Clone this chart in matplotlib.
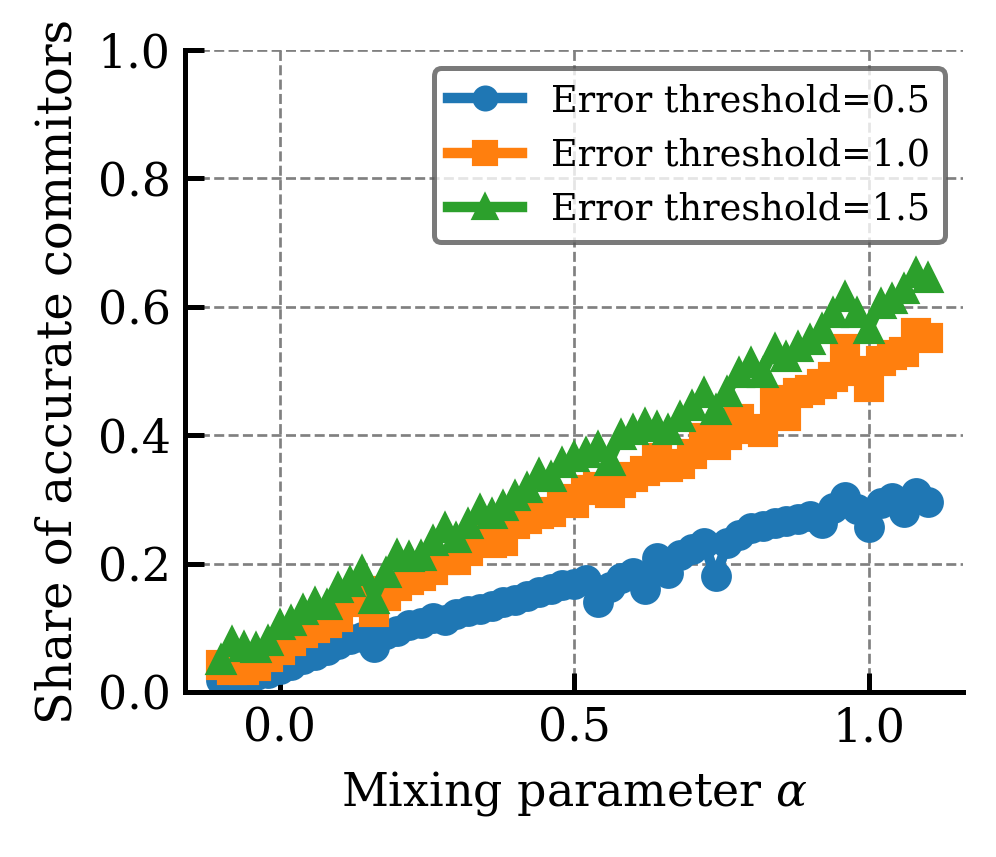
import numpy as np
import matplotlib
matplotlib.use("Agg")
import matplotlib.pyplot as plt

plt.rcParams['font.family'] = 'DejaVu Serif'
plt.rcParams['mathtext.fontset'] = 'dejavuserif'

# mixing parameter grid
alpha = np.linspace(-0.1, 1.1, 61)

# share of accurate commitors
thr_05 = [0.018, 0.015, 0.023, 0.026, 0.030, 0.036, 0.042, 0.052, 0.058, 0.065,
          0.075, 0.082, 0.086, 0.070, 0.090, 0.095, 0.105, 0.108, 0.115, 0.112,
          0.122, 0.126, 0.130, 0.134, 0.140, 0.143, 0.150, 0.156, 0.160, 0.166,
          0.168, 0.174, 0.140, 0.164, 0.178, 0.185, 0.160, 0.208, 0.186, 0.214,
          0.222, 0.232, 0.180, 0.232, 0.245, 0.255, 0.258, 0.263, 0.266, 0.270,
          0.274, 0.263, 0.287, 0.304, 0.285, 0.257, 0.294, 0.302, 0.280, 0.310,
          0.296]
thr_10 = [0.042, 0.034, 0.034, 0.040, 0.055, 0.065, 0.080, 0.092, 0.100, 0.108,
          0.117, 0.140, 0.158, 0.125, 0.150, 0.165, 0.175, 0.180, 0.190, 0.205,
          0.205, 0.220, 0.238, 0.232, 0.235, 0.262, 0.270, 0.278, 0.280, 0.300,
          0.295, 0.315, 0.320, 0.310, 0.325, 0.335, 0.345, 0.365, 0.350, 0.355,
          0.370, 0.395, 0.385, 0.400, 0.425, 0.410, 0.405, 0.455, 0.430, 0.465,
          0.470, 0.480, 0.490, 0.535, 0.500, 0.475, 0.515, 0.525, 0.530, 0.560,
          0.552]
thr_15 = [0.050, 0.078, 0.070, 0.068, 0.080, 0.105, 0.110, 0.128, 0.138, 0.135,
          0.162, 0.172, 0.188, 0.145, 0.185, 0.214, 0.210, 0.212, 0.235, 0.255,
          0.240, 0.262, 0.283, 0.278, 0.290, 0.306, 0.318, 0.340, 0.335, 0.357,
          0.366, 0.372, 0.382, 0.360, 0.400, 0.408, 0.418, 0.413, 0.408, 0.428,
          0.445, 0.466, 0.440, 0.468, 0.497, 0.512, 0.497, 0.535, 0.522, 0.537,
          0.548, 0.565, 0.590, 0.615, 0.590, 0.565, 0.605, 0.612, 0.628, 0.652,
          0.645]

series = [(thr_05, 'o', 'Error threshold=0.5'),
          (thr_10, 's', 'Error threshold=1.0'),
          (thr_15, '^', 'Error threshold=1.5')]

fig = plt.figure(figsize=(3.32, 2.857), dpi=300)
ax = fig.add_axes([0.186, 0.1925, 0.781, 0.749])

for vals, mk, lab in series:
    ax.plot(alpha, vals, marker=mk, markersize=6.4, linewidth=2.5, label=lab)

ax.set_ylim(0, 1)
ax.set_xticks([0.0, 0.5, 1.0])
ax.set_yticks([0.0, 0.2, 0.4, 0.6, 0.8, 1.0])
ax.set_xlabel(r'Mixing parameter $\alpha$', fontsize=11)
ax.set_ylabel('Share of accurate commitors', fontsize=11.5)
ax.tick_params(direction='in', length=4.5, width=1.2, labelsize=11)

for s in ['top', 'right']:
    ax.spines[s].set_visible(False)
for s in ['left', 'bottom']:
    ax.spines[s].set_linewidth(1.2)

ax.grid(True, linestyle='--', color='0.5', linewidth=0.65)

leg = ax.legend(loc='upper right', fontsize=8.8, numpoints=1, fancybox=True,
                framealpha=0.8, edgecolor='0.35', markerscale=0.82)
leg.get_frame().set_linewidth(1.2)

fig.savefig('out.png', dpi=300)
